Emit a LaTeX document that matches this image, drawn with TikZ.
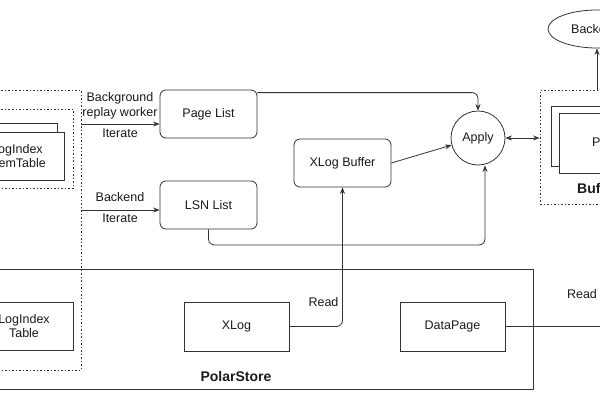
\documentclass[tikz,border=0pt]{standalone}
\usepackage{fontspec}
\setmainfont{Liberation Sans}
\usetikzlibrary{arrows.meta,shapes.geometric}
\definecolor{ln}{HTML}{333333}
\definecolor{tx}{HTML}{1A1A1A}
\begin{document}
\begin{tikzpicture}[x=1pt,y=-1pt,
  font=\fontsize{12.5}{14.5}\selectfont, text=tx,
  sq/.style={draw=ln, line width=0.8pt, rectangle, inner sep=0pt, align=center},
  rbox/.style={sq, rounded corners=6pt},
  dotbox/.style={sq, dash pattern=on 1.5pt off 2pt},
  conn/.style={draw=ln, line width=0.8pt},
  arr/.style={conn, -{Stealth[length=6.5pt,width=5pt]}},
  darr/.style={conn, {Stealth[length=6.5pt,width=5pt]}-{Stealth[length=6.5pt,width=5pt]}},
  lbl/.style={align=center, inner sep=0pt},
  ttl/.style={inner sep=0pt, font=\bfseries\fontsize{14}{16}\selectfont}]
\useasboundingbox (0,0) rectangle (600,400);
\clip (0,0) rectangle (600,400);
\fill[white] (0,0) rectangle (600,400);

% left dotted groups
\node[dotbox, minimum width=181, minimum height=280] (logbox) at (-9.5,230) {};
\node[dotbox, minimum width=173, minimum height=79] (memdot) at (-13.5,148.5) {};
\node[sq, fill=white, minimum width=94, minimum height=48] (memback) at (10,147) {};
\node[sq, fill=white, minimum width=94, minimum height=48] (memfront) at (17,156) {LogIndex\\MemTable};

% PolarStore
\node[sq, minimum width=633, minimum height=120] (polar) at (216.5,329) {};
\node[sq, fill=white, minimum width=98, minimum height=48] (logtable) at (24,326) {LogIndex\\Table};
\node[sq, minimum width=105, minimum height=49] (xlog) at (236.5,326.5) {XLog};
\node[sq, minimum width=105, minimum height=49] (datapage) at (452.5,326.5) {DataPage};
\node[ttl] (polarlbl) at (236,376) {PolarStore};

% middle boxes
\node[rbox, minimum width=97, minimum height=48] (pagelist) at (208.5,114) {Page List};
\node[rbox, minimum width=97, minimum height=48] (lsnlist) at (208.5,205) {LSN List};
\node[rbox, minimum width=97, minimum height=48] (xlogbuf) at (342.5,163) {XLog Buffer};
\node[sq, circle, minimum size=54] (apply) at (478,138) {Apply};

% buffer pool
\node[dotbox, minimum width=140, minimum height=114] (bufbox) at (610,147) {};
\node[sq, fill=white, minimum width=96, minimum height=60] (pgback) at (599,136) {};
\node[sq, fill=white, minimum width=96, minimum height=60] (pgfront) at (607,143) {};
\node[lbl, anchor=west] (pgtext) at (592,143) {Page};
\node[ttl, anchor=west] (buflbl) at (577,188) {Buffer Pool};
\node[sq, ellipse, minimum width=98, minimum height=38] (backend) at (597,29) {};
\node[lbl, anchor=west] (backendtxt) at (571,29) {Backend};

% labels
\node[lbl] (bgl) at (120,106) {Background\\replay worker};
\node[lbl] (it1) at (120,133) {Iterate};
\node[lbl] (bel) at (120,197) {Backend};
\node[lbl] (it2) at (120,218) {Iterate};
\node[lbl] (rd1) at (323.5,302) {Read};
\node[lbl] (rd2) at (582,294) {Read};

% connectors
\coordinate (p1) at ([yshift=-10pt]pagelist.west);
\draw[arr] (logbox.east |- p1) -- (p1);
\coordinate (p2) at ([yshift=-5pt]lsnlist.west);
\draw[arr] (logbox.east |- p2) -- (p2);

\draw[arr, rounded corners=6pt] ([yshift=-3pt]pagelist.north east) -| (apply.north);
\draw[arr] (xlogbuf.east) -- (apply.195);
\coordinate (c1) at (485,245);
\draw[arr, rounded corners=6pt] (lsnlist.south) |- (c1) -- (c1 |- apply.south);
\draw[arr, rounded corners=6pt] (xlog.east) -| (xlogbuf.south);
\draw[darr] (apply.east) -- (apply.east -| bufbox.west);
\draw[arr] (backend.south |- bufbox.north) -- (backend.south);
\coordinate (dpend) at (620,326.5);
\draw[conn] (datapage.east) -- (dpend);
\end{tikzpicture}
\end{document}
